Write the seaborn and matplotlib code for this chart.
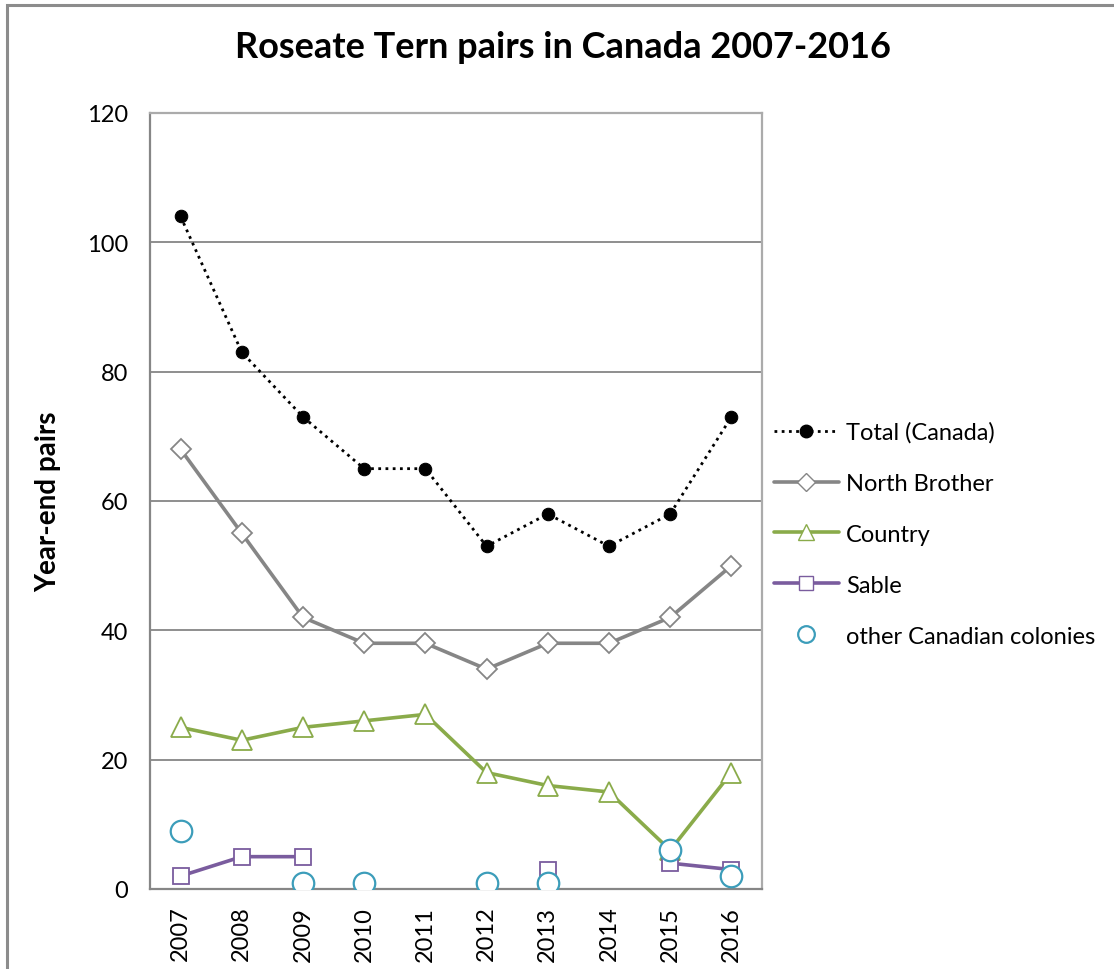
import numpy as np
import pandas as pd
import matplotlib
matplotlib.use("Agg")
import matplotlib.pyplot as plt
from matplotlib.lines import Line2D
from matplotlib.patches import Rectangle
import seaborn as sns

years = ["2007", "2008", "2009", "2010", "2011", "2012", "2013", "2014", "2015", "2016"]
total = [104, 83, 73, 65, 65, 53, 58, 53, 58, 73]
north_brother = [68, 55, 42, 38, 38, 34, 38, 38, 42, 50]
country = [25, 23, 25, 26, 27, 18, 16, 15, 6, 18]
sable = [2, 5, 5, np.nan, np.nan, np.nan, 3, np.nan, 4, 3]
other = [9, np.nan, 1, 1, np.nan, 1, 1, np.nan, 6, 2]

df = pd.DataFrame({
    "pos": np.arange(len(years)),
    "year": years,
    "Total (Canada)": total,
    "North Brother": north_brother,
    "Country": country,
    "Sable": sable,
    "other Canadian colonies": other,
})

sns.set_style("white")
plt.rcParams["font.family"] = ["Lato", "DejaVu Sans"]
plt.rcParams["text.color"] = "black"
plt.rcParams["axes.labelcolor"] = "black"

GRAY = "#868686"
GREEN = "#8AAB4A"
PURPLE = "#7A5C9E"
TEAL = "#3C9DBA"

fig = plt.figure(figsize=(11.14, 9.70), dpi=100)
ax = fig.add_axes([150 / 1114, 1 - 890 / 970, 612 / 1114, 776 / 970])

# outer chart border
fig.patches.append(Rectangle((7 / 1114, -0.05), 1.1, 1 - 6 / 970 + 0.05,
                             transform=fig.transFigure, fill=False,
                             edgecolor="#8c8c8c", linewidth=2.2, zorder=0))

sns.lineplot(data=df, x="pos", y="Total (Canada)", ax=ax, color="black",
             linestyle=(0, (1, 1.6)), linewidth=2, marker="o", markersize=9,
             markerfacecolor="black", markeredgecolor="black", zorder=5)
sns.lineplot(data=df, x="pos", y="North Brother", ax=ax, color=GRAY,
             linewidth=2.6, marker="D", markersize=10,
             markerfacecolor="white", markeredgecolor=GRAY, markeredgewidth=1.3, zorder=4)
sns.lineplot(data=df, x="pos", y="Country", ax=ax, color=GREEN,
             linewidth=2.6, marker="^", markersize=14,
             markerfacecolor="white", markeredgecolor=GREEN, markeredgewidth=1.3, zorder=4)
# Sable has gaps, plot with NaN breaks
ax.plot(df["pos"], df["Sable"], color=PURPLE, linewidth=2.6, marker="s", markersize=11,
        markerfacecolor="white", markeredgecolor=PURPLE, markeredgewidth=1.3, zorder=4)
sns.scatterplot(data=df, x="pos", y="other Canadian colonies", ax=ax, marker="o", s=240,
                facecolor="white", edgecolor=TEAL, linewidth=1.6, zorder=6)

ax.set_xlim(-0.5, 9.5)
ax.set_ylim(0, 120)
ax.set_yticks(range(0, 121, 20))
ax.yaxis.grid(True, color=GRAY, linewidth=1.3)
ax.set_axisbelow(True)
ax.set_xticks(df["pos"])
ax.set_xticklabels(years, rotation=90, fontsize=17)
ax.set_xticks(np.arange(-0.5, 10, 1), minor=True)
ax.tick_params(axis="x", which="major", length=0, pad=12, labelcolor="black")
ax.tick_params(axis="x", which="minor", length=9, width=1.3, color=GRAY, direction="out")
ax.tick_params(axis="y", length=8, width=1.3, color=GRAY, direction="out", labelsize=17,
               pad=8, labelcolor="black")

for side in ["left", "bottom"]:
    ax.spines[side].set_color(GRAY)
    ax.spines[side].set_linewidth(1.6)
for side in ["top", "right"]:
    ax.spines[side].set_visible(True)
    ax.spines[side].set_color("#ababab")
    ax.spines[side].set_linewidth(1.6)

ax.set_xlabel("")
ax.set_ylabel("Year-end pairs", fontsize=20, fontweight="bold", labelpad=18)
fig.suptitle("Roseate Tern pairs in Canada 2007-2016", fontsize=26, fontweight="bold",
             x=563 / 1114, y=1 - 47 / 970, va="center", color="black")

handles = [
    Line2D([], [], color="black", linestyle=(0, (1, 1.6)), linewidth=2, marker="o",
           markersize=9, markerfacecolor="black"),
    Line2D([], [], color=GRAY, linewidth=2.6, marker="D", markersize=9,
           markerfacecolor="white", markeredgecolor=GRAY),
    Line2D([], [], color=GREEN, linewidth=2.6, marker="^", markersize=12,
           markerfacecolor="white", markeredgecolor=GREEN),
    Line2D([], [], color=PURPLE, linewidth=2.6, marker="s", markersize=10,
           markerfacecolor="white", markeredgecolor=PURPLE),
    Line2D([], [], linestyle="none", marker="o", markersize=12,
           markerfacecolor="white", markeredgecolor=TEAL, markeredgewidth=1.6),
]
labels = ["Total (Canada)", "North Brother", "Country", "Sable", "other Canadian colonies"]
fig.legend(handles, labels, loc="center left", bbox_to_anchor=(774 / 1114, 1 - 535 / 970),
           frameon=False, fontsize=17, handlelength=2.75, handletextpad=0.3,
           labelspacing=1.27, borderaxespad=0, borderpad=0)

fig.savefig("out.png", dpi=100)
